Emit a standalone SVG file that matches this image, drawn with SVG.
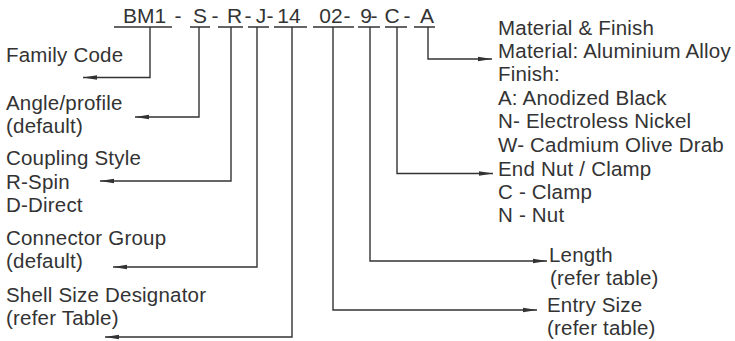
<svg xmlns="http://www.w3.org/2000/svg" width="735" height="341" viewBox="0 0 735 341">
  <style>
    .t { font-family: "Liberation Sans", Arial, sans-serif; font-size: 20.5px; letter-spacing: 0.2px; fill: #333; }
    .code { font-family: "Liberation Sans", Arial, sans-serif; font-size: 21px; fill: #333; text-anchor: middle; }
    .ul { stroke: #333; stroke-width: 1.4; fill: none; }
    .c { stroke: #333; stroke-width: 1.4; fill: none; marker-end: url(#ah); }
  </style>
  <defs>
    <marker id="ah" markerUnits="userSpaceOnUse" markerWidth="16" markerHeight="8" refX="14" refY="4" orient="auto" viewBox="0 0 16 8">
      <path d="M0,1.8 L14,4 L0,6.2 Z" fill="#333"/>
    </marker>
  </defs>
  <rect width="735" height="341" fill="#fff"/>

  <g id="code">
    <text class="code" y="23"><tspan x="144.5">BM1</tspan><tspan x="178">-</tspan><tspan x="200">S</tspan><tspan x="215">-</tspan><tspan x="234.5">R</tspan><tspan x="248">-</tspan><tspan x="261">J</tspan><tspan x="270">-</tspan><tspan x="289">14</tspan><tspan x="331">02</tspan><tspan x="347">-</tspan><tspan x="366">9</tspan><tspan x="374">-</tspan><tspan x="392">C</tspan><tspan x="407">-</tspan><tspan x="427">A</tspan></text>
    <path class="ul" d="M114,27 H172 M190,27 H210 M218,27 H243 M248,27 H269 M274,27 H307 M313,27 H354 M358,27 H380 M385,27 H407 M414,27 H435"/>
  </g>

  <g id="connectors">
    <path class="c" d="M150,27 V77.5 H83"/>
    <path class="c" d="M199,27 V117 H135"/>
    <path class="c" d="M231,27 V181 H100"/>
    <path class="c" d="M257,27 V267 H113"/>
    <path class="c" d="M292,27 V337 H105"/>
    <path class="c" d="M333,27 V310 H537"/>
    <path class="c" d="M370,27 V261 H547"/>
    <path class="c" d="M397,27 V173.5 H493"/>
    <path class="c" d="M428,27 V59 H492"/>
  </g>

  <g id="family-code">
    <text class="t" x="6" y="62">Family Code</text>
  </g>
  <g id="angle-profile">
    <text class="t" x="6" y="110">Angle/profile</text>
    <text class="t" x="6" y="133">(default)</text>
  </g>
  <g id="coupling-style">
    <text class="t" x="6" y="165">Coupling Style</text>
    <text class="t" x="6" y="188.5">R-Spin</text>
    <text class="t" x="6" y="212">D-Direct</text>
  </g>
  <g id="connector-group">
    <text class="t" x="6" y="245">Connector Group</text>
    <text class="t" x="6" y="268">(default)</text>
  </g>
  <g id="shell-size">
    <text class="t" x="6" y="302">Shell Size Designator</text>
    <text class="t" x="6" y="325">(refer Table)</text>
  </g>

  <g id="material-finish">
    <text class="t" x="498" y="35">Material &amp; Finish</text>
    <text class="t" x="498" y="58">Material: Aluminium Alloy</text>
    <text class="t" x="498" y="81">Finish:</text>
    <text class="t" x="498" y="104.5">A: Anodized Black</text>
    <text class="t" x="498" y="128">N- Electroless Nickel</text>
    <text class="t" x="498" y="151.5">W- Cadmium Olive Drab</text>
  </g>
  <g id="end-nut">
    <text class="t" x="498" y="175.5">End Nut / Clamp</text>
    <text class="t" x="498" y="198.5">C - Clamp</text>
    <text class="t" x="498" y="221.5">N - Nut</text>
  </g>
  <g id="length">
    <text class="t" x="549" y="262">Length</text>
    <text class="t" x="550" y="285">(refer table)</text>
  </g>
  <g id="entry-size">
    <text class="t" x="547" y="312">Entry Size</text>
    <text class="t" x="547" y="335">(refer table)</text>
  </g>
</svg>
